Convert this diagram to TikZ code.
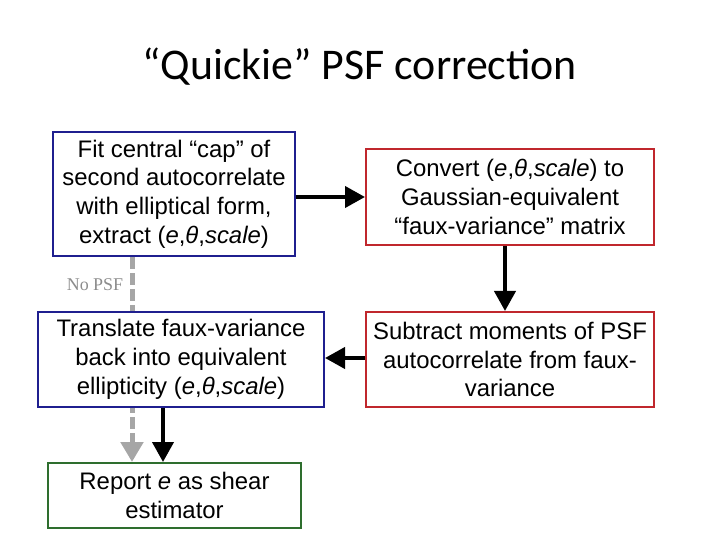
\documentclass[tikz,border=0pt]{standalone}
\usepackage{fontspec}
\setmainfont{Liberation Sans}
\newfontfamily\titlefont{Carlito}
\newfontfamily\notefont{Liberation Serif}
\usepackage{xcolor}
\usetikzlibrary{arrows.meta, positioning, backgrounds}

\definecolor{boxblue}{HTML}{1F1F8F}
\definecolor{boxred}{HTML}{C0272D}
\definecolor{boxgreen}{HTML}{2E6E2E}
\definecolor{psfgray}{HTML}{A6A6A6}
\definecolor{notegray}{HTML}{8C8C8C}

\begin{document}
\begin{tikzpicture}[
    x=1bp, y=-1bp,
    font=\fontsize{24}{28.8}\selectfont,
    box/.style={draw, line width=2bp, fill=white, rectangle, align=center, inner sep=0pt},
    bluebox/.style={box, draw=boxblue},
    redbox/.style={box, draw=boxred},
    greenbox/.style={box, draw=boxgreen},
    arrow/.style={-{Triangle[length=20bp, width=21bp]}, line width=4bp},
    nopsf/.style={-{Triangle[length=20bp, width=22bp]}, line width=5bp, draw=psfgray, dash pattern=on 12bp off 4bp}
]
\useasboundingbox (0,0) rectangle (720,540);

% Title
\node (title) at (360,67) {\titlefont\fontsize{44}{52}\selectfont “Quickie” PSF correction};

% Left column
\node[bluebox, minimum width=241bp, minimum height=124bp] (fit) at (174,194)
{Fit central “cap” of\\ second autocorrelate\\ with elliptical form,\\ extract (\textit{e},\textit{θ},\textit{scale})};
\node[bluebox, minimum width=286bp, minimum height=95bp] (translate) at (181,359.5)
{Translate faux-variance\\ back into equivalent\\ ellipticity (\textit{e},\textit{θ},\textit{scale})};
\node[greenbox, minimum width=253bp, minimum height=65bp] (report) at (174.5,495.5)
{Report \textit{e} as shear\\ estimator};

% Right column
\node[redbox, minimum width=288bp, minimum height=96bp] (convert) at (510,197)
{Convert (\textit{e},\textit{θ},\textit{scale}) to\\ Gaussian-equivalent\\ “faux-variance” matrix};
\node[redbox, minimum width=288bp, minimum height=95bp] (subtract) at (510,359.5)
{Subtract moments of PSF\\ autocorrelate from faux-\\ variance};

% Arrows
\draw[arrow] (fit.east |- 0,197) -- (convert.west |- 0,197);
\draw[arrow] (convert.south -| 505,0) -- (subtract.north -| 505,0);
\draw[arrow] (subtract.west |- 0,358) -- (translate.east |- 0,358);
\draw[arrow] (translate.south -| 163,0) -- (report.north -| 163,0);

% No PSF shortcut
\coordinate (skip) at (132,0);
\begin{scope}[on background layer]
\draw[nopsf] (skip |- fit.south) -- (skip |- report.north);
\end{scope}
\node[text=notegray, font=\notefont\fontsize{18}{21}\selectfont] (nopsflabel) at (95,285) {No PSF};

\end{tikzpicture}
\end{document}
